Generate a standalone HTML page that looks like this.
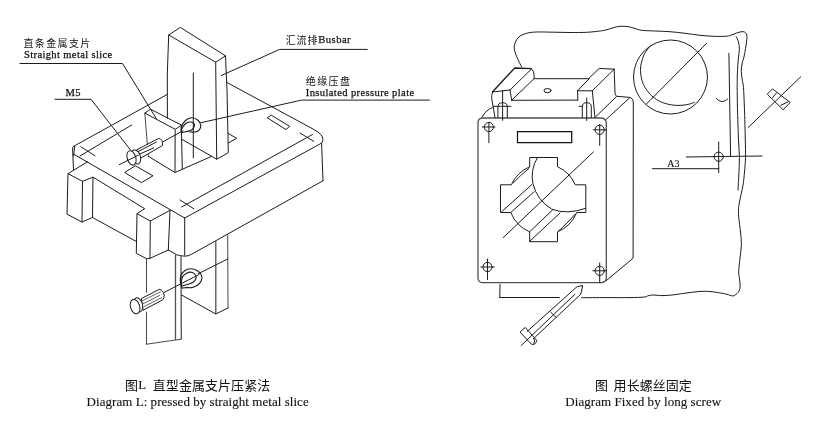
<!DOCTYPE html>
<html><head><meta charset="utf-8"><title>Diagram</title>
<style>
html,body{margin:0;padding:0;background:#fff;}
body{width:816px;height:440px;overflow:hidden;font-family:"Liberation Serif",serif;}
svg{display:block;will-change:transform;}
.l{fill:none;stroke:#1c1c1c;stroke-width:1;stroke-linecap:round;stroke-linejoin:round;}
.t{fill:none;stroke:#3a3a3a;stroke-width:0.8;stroke-linecap:round;stroke-linejoin:round;}
.w{fill:#fff;stroke:#1c1c1c;stroke-width:1;stroke-linecap:round;stroke-linejoin:round;}
.wt{fill:#fff;stroke:#3a3a3a;stroke-width:0.8;stroke-linejoin:round;}
.k{fill:#fff;stroke:none;}
.e{fill:none;stroke:#fff;stroke-width:3;}
.m{fill:none;stroke:#1c1c1c;stroke-width:1.12;stroke-linecap:round;stroke-linejoin:round;}
.b{fill:none;stroke:#1c1c1c;stroke-width:1.35;stroke-linecap:round;stroke-linejoin:round;}
.g{fill:none;stroke:#333;stroke-width:0.9;stroke-linecap:round;stroke-linejoin:round;}
.f{fill:none;stroke:#505050;stroke-width:1.3;stroke-linejoin:round;}
.h{fill:none;stroke:#111;stroke-width:1.25;stroke-linejoin:miter;}
text{font-family:"Liberation Serif",serif;fill:#111;stroke:#111;stroke-width:0.25px;}
text.c{stroke-width:0.12px;}
text.z{font-family:"Liberation Sans","Noto Sans CJK SC",sans-serif;fill:#111;stroke:none;}
</style></head><body>
<svg width="816" height="440" viewBox="0 0 816 440">
<rect width="816" height="440" fill="#fff"/>
<path class="l" d="M73.3 146.5 L167.5 94.3"/>
<path class="l" d="M227 82.5 L313 129 Q323.3 134.5 322.9 139.5 Q322.6 142 321.6 143.3 L323 180.8"/>
<path class="l" d="M321.4 143.2 L184.7 218"/>
<path class="l" d="M184.7 218 L73.7 154.2"/>
<path class="l" d="M73.3 146.5 Q72.4 147.3 72.6 149 L73.5 169.8"/>
<path class="l" d="M74.7 146.2 L73.6 156"/>
<path class="l" d="M80 156 L131.7 125"/>
<path class="l" d="M80.8 146.7 L95 155.8"/>
<path class="l" d="M181.7 207 L312.5 134.5"/>
<path class="l" d="M180 200 L193.7 208.7"/>
<path class="l" d="M300 133 L313.7 141.3"/>
<path class="l" d="M125 172.3 L135.3 165.8 L153 175.8 L141.8 182.5 Z"/>
<path class="l" d="M267.5 117.5 L271.3 115.2 L289.7 126.3 L286.3 129.3 Z"/>
<path class="l" d="M228.3 133.5 L236.7 138.3 L228.3 143"/>
<path class="l" d="M184.7 218 L184.7 255.3"/>
<path class="l" d="M323 180.8 L191.7 254.2 Q188 256.3 184.7 256.2 Q180 255.8 176.7 254.8 L168.3 250"/>
<path class="l" d="M87.5 161.8 L68 173.7 L82.5 181.3 L93 177.2 L144.7 208.7 L137 213.7 L150.3 221 L170 210.3"/>
<path class="l" d="M68 173.7 L67 214.2 L82 222 L92.5 217.5 L136.7 241.7"/>
<path class="l" d="M82.5 181.3 L82 222"/>
<path class="l" d="M93 177.2 L92.5 217.5"/>
<path class="l" d="M137 213.7 L136.3 253.3 L146.5 258.7 L150 258.3 L168.3 250"/>
<path class="l" d="M150.3 221 L150 258.3"/>
<path class="l" d="M170 210.3 L168.3 250"/>
<path class="g" d="M146.5 258.7 L146.5 344.2"/>
<path class="g" d="M146.5 344.2 L175.5 340 L181.3 339.2"/>
<path class="f" d="M175.5 255 L175.5 340"/>
<path class="f" d="M181 256 L181.3 339.2"/>
<path class="f" d="M215.8 241.3 L215.8 314"/>
<path class="g" d="M227.7 234.7 L228 308"/>
<path class="l" d="M181.5 295 L215.8 314 L228 308"/>
<path class="l" d="M167.4 118.3 L167.3 74 L168.7 35 L180.3 27.4 L225.5 55.8 L215.7 62.2 L168.7 35"/>
<path class="l" d="M215.7 62.2 L216.7 159.2"/>
<path class="l" d="M225.5 55.75 L227 90 L228.3 152.7 L216.7 159.2 L181.3 139"/>
<path class="l" d="M193.3 73 L193.3 157.8"/>
<path class="l" d="M150.2 109.4 L144.8 113.1 L175.2 129.3 L181.3 125.4 Z"/>
<path class="g" d="M144.8 113.1 L148.3 156.3"/>
<path class="l" d="M148.3 156.3 L175 172.5 L211.7 156.3"/>
<path class="f" d="M175.2 129.3 L175 172.5"/>
<path class="l" d="M181.3 125.4 L182.3 169"/>
<path class="l" d="M20 63.5 L122.5 63.5 L156.3 118.6"/>
<path class="l" d="M55 99.3 L91 99.3 L130.5 150"/>
<path class="l" d="M367.3 49.4 L279.7 49.4 L221.3 75.5"/>
<path class="l" d="M429.4 100.1 L301.5 100.1 L200.5 122.8"/>
<path class="m" d="M181.50 132.50 C181.50 131.54 180.83 128.75 181.50 126.75 C182.17 124.75 183.79 122.00 185.50 120.50 C187.21 119.00 189.67 117.79 191.75 117.75 C193.83 117.71 196.50 118.96 198.00 120.25 C199.50 121.54 200.54 123.90 200.75 125.50 C200.96 127.10 200.17 128.79 199.25 129.88 C198.33 130.96 196.81 131.65 195.25 132.00 C193.69 132.35 190.77 132.00 189.88 132.00"/>
<path class="m" d="M181.25 132.12 C180.83 131.29 182.19 128.23 183.00 126.75 C183.81 125.27 184.92 124.04 186.12 123.25 C187.33 122.46 188.98 122.00 190.25 122.00 C191.52 122.00 193.04 122.62 193.75 123.25 C194.46 123.88 194.62 124.85 194.50 125.75 C194.38 126.65 193.67 127.83 193.00 128.62 C192.33 129.42 191.75 129.98 190.50 130.50 C189.25 131.02 187.04 131.48 185.50 131.75 C183.96 132.02 181.67 132.96 181.25 132.12 Z"/>
<path class="l" d="M162.5 142 L183 130.8"/>
<path class="w" d="M136.9 149.7 L158.7 138.4 Q163.2 139 162.4 145.6 L141 157.9 Z"/>
<path class="l" d="M138.3 151.5 L156.5 142"/>
<path class="l" d="M139.2 154.3 L153.7 147.9"/>
<ellipse class="w" cx="136" cy="157" rx="4.4" ry="7.3" transform="rotate(-18 136 157)"/>
<ellipse class="w" cx="131.5" cy="157.9" rx="4.3" ry="7.4" transform="rotate(-18 131.5 157.9)"/>
<path class="l" d="M119.2 164.7 L138.3 155.2"/>
<path class="l" d="M198.3 273.7 L227.7 259"/>
<path class="m" d="M181.90 288.10 C181.65 287.02 180.58 283.65 180.40 281.60 C180.22 279.55 180.08 277.60 180.80 275.80 C181.52 274.00 183.08 271.97 184.70 270.80 C186.32 269.63 188.45 268.87 190.50 268.80 C192.55 268.73 195.17 269.35 197.00 270.40 C198.83 271.45 200.78 273.38 201.50 275.10 C202.22 276.82 202.05 278.97 201.30 280.70 C200.55 282.43 198.62 284.35 197.00 285.50 C195.38 286.65 193.40 287.25 191.60 287.60 C189.80 287.95 187.82 287.52 186.20 287.60 C184.58 287.68 182.62 288.02 181.90 288.10"/>
<path class="m" d="M181.20 283.70 C181.30 282.18 181.67 278.52 182.50 276.80 C183.33 275.08 184.87 274.18 186.20 273.40 C187.53 272.62 189.17 272.07 190.50 272.10 C191.83 272.13 193.27 272.82 194.20 273.60 C195.13 274.38 196.00 275.62 196.10 276.80 C196.20 277.98 195.62 279.62 194.80 280.70 C193.98 281.78 192.63 282.62 191.20 283.30 C189.77 283.98 187.75 284.37 186.20 284.80 C184.65 285.23 182.73 286.08 181.90 285.90 C181.07 285.72 181.10 285.22 181.20 283.70 Z"/>
<path class="e" d="M146.5 292.6 L146.5 311.6"/>
<path class="l" d="M164.2 292.4 L199 274.5"/>
<path class="w" d="M141.7 298.4 L159.4 289.3 Q163 289.8 164.2 295 Q164.3 298 162.9 299.7 L143.4 310.1 Z"/>
<path class="t" d="M142.6 300.6 L160.3 291.9"/>
<path class="t" d="M143.4 303.6 L159.8 295.4"/>
<path class="t" d="M143.9 306.6 L162 297.5"/>
<ellipse class="w" cx="138.1" cy="304.9" rx="4.4" ry="7.3" transform="rotate(-17 138.1 304.9)"/>
<ellipse class="w" cx="135.05" cy="306.6" rx="4.6" ry="7.4" transform="rotate(-17 135.05 306.6)"/>
<path class="l" d="M521.70 67.00 C520.87 65.28 517.95 60.08 516.70 56.70 C515.45 53.32 513.93 49.90 514.20 46.70 C514.47 43.50 516.22 39.73 518.30 37.50 C520.38 35.27 523.63 34.22 526.70 33.30 C529.77 32.38 532.27 32.18 536.70 32.00 C541.13 31.82 547.75 32.12 553.30 32.20 C558.85 32.28 564.43 32.48 570.00 32.50 C575.57 32.52 581.98 32.52 586.70 32.30 C591.42 32.08 595.08 31.58 598.30 31.20 C601.52 30.82 603.55 30.57 606.00 30.00 C608.45 29.43 610.67 28.42 613.00 27.80 C615.33 27.18 617.45 26.48 620.00 26.30 C622.55 26.12 625.80 26.33 628.30 26.70 C630.80 27.07 632.77 27.90 635.00 28.50 C637.23 29.10 638.37 29.88 641.70 30.30 C645.03 30.72 650.28 30.77 655.00 31.00 C659.72 31.23 665.00 31.32 670.00 31.70 C675.00 32.08 680.00 32.70 685.00 33.30 C690.00 33.90 695.17 34.80 700.00 35.30 C704.83 35.80 709.55 36.15 714.00 36.30 C718.45 36.45 723.70 36.45 726.70 36.20 C729.70 35.95 730.33 35.33 732.00 34.80 C733.67 34.27 735.20 33.50 736.70 33.00 C738.20 32.50 739.70 31.97 741.00 31.80 C742.30 31.63 743.53 31.47 744.50 32.00 C745.47 32.53 746.47 33.33 746.80 35.00 C747.13 36.67 746.93 38.53 746.50 42.00 C746.07 45.47 744.95 52.13 744.20 55.80 C743.45 59.47 742.48 61.35 742.00 64.00 C741.52 66.65 741.25 69.03 741.30 71.70 C741.35 74.37 741.93 77.35 742.30 80.00 C742.67 82.65 743.17 83.43 743.50 87.60 C743.83 91.77 744.08 99.68 744.30 105.00 C744.52 110.32 744.63 113.67 744.80 119.50 C744.97 125.33 745.18 133.65 745.30 140.00 C745.42 146.35 745.63 152.27 745.50 157.60 C745.37 162.93 744.92 167.43 744.50 172.00 C744.08 176.57 743.87 179.83 743.00 185.00 C742.13 190.17 740.05 198.83 739.30 203.00 C738.55 207.17 738.60 207.62 738.50 210.00 C738.40 212.38 738.37 213.63 738.70 217.30 C739.03 220.97 740.05 227.45 740.50 232.00 C740.95 236.55 741.48 240.27 741.40 244.60 C741.32 248.93 740.45 253.45 740.00 258.00 C739.55 262.55 738.73 268.07 738.70 271.90 C738.67 275.73 739.58 278.28 739.80 281.00 C740.02 283.72 740.30 286.28 740.00 288.20 C739.70 290.12 739.13 291.22 738.00 292.50 C736.87 293.78 735.03 295.60 733.20 295.90 C731.37 296.20 729.03 294.77 727.00 294.30 C724.97 293.83 723.83 293.57 721.00 293.10 C718.17 292.63 713.67 291.77 710.00 291.50 C706.33 291.23 703.17 291.22 699.00 291.50 C694.83 291.78 689.50 292.62 685.00 293.20 C680.50 293.78 675.83 294.60 672.00 295.00 C668.17 295.40 665.17 295.60 662.00 295.60 C658.83 295.60 655.33 294.97 653.00 295.00 C650.67 295.03 649.40 295.47 648.00 295.80 C646.60 296.13 647.60 296.70 644.60 297.00 C641.60 297.30 636.43 297.50 630.00 297.60 C623.57 297.70 614.05 297.58 606.00 297.60 C597.95 297.62 585.75 297.68 581.70 297.70"/>
<path class="l" d="M559.5 297.5 L499.8 297.5"/>
<path class="l" d="M499.8 297.5 L500 284.5"/>
<path class="l" d="M736.20 36.70 C736.58 37.58 737.97 39.87 738.50 42.00 C739.03 44.13 739.40 47.00 739.40 49.50 C739.40 52.00 738.77 54.35 738.50 57.00 C738.23 59.65 738.00 62.23 737.80 65.40 C737.60 68.57 737.40 72.30 737.30 76.00 C737.20 79.70 737.18 82.77 737.20 87.60 C737.22 92.43 737.30 99.68 737.40 105.00 C737.50 110.32 737.62 113.67 737.80 119.50 C737.98 125.33 738.23 133.65 738.50 140.00 C738.77 146.35 739.35 151.77 739.40 157.60 C739.45 163.43 739.03 169.60 738.80 175.00 C738.57 180.40 738.13 187.50 738.00 190.00"/>
<path class="l" d="M728.9 53.3 L730.6 156"/>
<path class="l" d="M716.3 98.5 Q721.7 104.5 727.5 99.2"/>
<path class="l" d="M481.7 117.5 Q485 111.5 490 108.5 L492.3 107.8"/>
<circle class="l" cx="670.5" cy="77" r="37"/>
<path class="l" d="M650.41 45.72 C649.44 47.02 646.08 50.60 644.55 53.53 C643.02 56.46 641.89 60.04 641.23 63.30 C640.58 66.55 640.26 69.48 640.65 73.06 C641.04 76.64 641.79 81.04 643.58 84.78 C645.37 88.52 648.30 92.59 651.39 95.52 C654.48 98.45 658.23 100.73 662.13 102.36 C666.04 103.99 670.76 104.90 674.83 105.29 C678.90 105.68 683.29 105.19 686.55 104.70 C689.80 104.21 693.06 102.75 694.36 102.36"/>
<path class="l" d="M706.5 43.4 L646.5 103.9"/>
<path class="l" d="M800.7 76.8 L748.2 127.5"/>
<path class="l" d="M772.2 89.2 L767.3 94.2 L783.2 109.8 L789.9 102.7 Z"/>
<path class="l" d="M776.4 93 L772.7 97.5"/>
<path class="l" d="M787.7 102 L780.8 105.3"/>
<circle class="l" cx="718.7" cy="156.7" r="4.6"/>
<path class="l" d="M718.7 142 L718.7 172.5"/>
<path class="l" d="M686.3 157 L762 156"/>
<path class="l" d="M652.5 168.7 L718.7 168.7"/>
<path class="l" d="M595 117.5 L616.7 96.3 L629 97.3 Q633.5 98 633.3 103 L633.1 258.2 L607 280 Q604 282.5 600.9 282.8"/>
<path class="l" d="M605.5 120 L629.5 98"/>
<path class="f" d="M482.5 118 L601.5 118 Q606 118.5 606.3 123 L606.3 278 Q606 282.5 601.5 282.6 L482.5 282.6 Q478.2 282.4 478 278 L478 122.5 Q478.2 118.3 482.5 118 Z"/>
<path class="h" d="M517.5 131.7 L571.7 131.7 L571.7 142.6 L517.5 142.6 Z"/>
<circle class="l" cx="488.9" cy="127" r="4.6"/>
<path class="l" d="M488.9 122.3 L488.9 142.7"/>
<path class="l" d="M482.2 127 L495 127"/>
<circle class="l" cx="599.7" cy="129.8" r="4.6"/>
<path class="l" d="M599.7 124.5 L599.7 145.5"/>
<path class="l" d="M593.3 129.8 L606.2 129.8"/>
<circle class="l" cx="487.5" cy="267" r="4.6"/>
<path class="l" d="M487.5 259 L487.5 279.5"/>
<path class="l" d="M480.8 267 L494.2 267"/>
<circle class="l" cx="599.7" cy="270.8" r="4.6"/>
<path class="l" d="M599.7 263 L599.7 282.5"/>
<path class="l" d="M592.8 270.8 L606.2 270.8"/>
<path class="b" d="M492.6 91.8 L514.7 68 L531 68.6"/>
<path class="l" d="M531 68.6 Q534.5 70 534.2 78.5"/>
<path class="l" d="M531.7 68.8 L510 90"/>
<path class="l" d="M492.5 92 L510 90"/>
<path class="l" d="M492.5 92 Q491.3 96 491.7 98.5 L495 117.5"/>
<path class="l" d="M510 90 L511.7 100.3"/>
<path class="l" d="M511.7 100.3 L534.2 78.5"/>
<path class="l" d="M534.2 78.7 L588.5 78.7"/>
<path class="l" d="M511.7 100.3 L577.8 100.1"/>
<ellipse class="l" cx="547.5" cy="90.6" rx="3.5" ry="2.1" transform="rotate(0 547.5 90.6)"/>
<path class="l" d="M588.5 78.7 L599.3 68.4 L614.2 69.2"/>
<path class="l" d="M589.2 78.7 L577.5 90.8"/>
<path class="l" d="M577.5 90.8 L592.3 90.8"/>
<path class="l" d="M592.3 90.8 L614.2 69.2"/>
<path class="l" d="M577.6 90.8 L577.8 100.1"/>
<path class="l" d="M592.3 90.8 L595 117.5"/>
<path class="l" d="M614.2 69.2 L615 93.3 Q615.5 95.5 616.7 96.3"/>
<path class="l" d="M497.9 117.5 L497.9 106.7 Q497.9 102.7 502.6 102.7 Q507.3 102.7 507.3 106.7 L507.3 117.5"/>
<path class="l" d="M582.3 117.5 L582.3 106.7 Q582.3 102.7 586.8 102.7 Q591.3 102.7 591.3 106.7 L591.3 117.5"/>
<path class="l" d="M502.6 90.5 L502.6 120.3"/>
<path class="l" d="M493.3 106.3 L510.8 106.3"/>
<path class="l" d="M586.7 98 L586.7 120.5"/>
<path class="l" d="M579 106.3 L582.3 106.3"/>
<path class="l" d="M529.7 166.7 L529.7 157.5 L557.5 157.5 L557.5 166.7 A35.4 35.4 0 0 1 575.3 184.8 L585.8 184.8 L585.8 212.5 L576.7 212.5 A35.4 35.4 0 0 1 557.5 231.9 L557.5 241.7 L529.7 241.7 L529.7 231.9 A35.4 35.4 0 0 1 510.8 212.5 L500.5 212.5 L500.5 184.8 L511.3 184.8 A35.4 35.4 0 0 1 529.7 166.7"/>
<path class="l" d="M513.2 183 A150 150 0 0 1 529 168.3"/>
<path class="l" d="M558.3 231.2 A150 150 0 0 0 575.2 214.2"/>
<path class="l" d="M537.5 157.5 Q530 170 533 184 Q537 200 551.7 209.2 Q567 215 585.8 208.3"/>
<path class="l" d="M593.3 152 L503.3 237.5"/>
<path class="l" d="M531.7 184.7 L501.7 211.7"/>
<path class="l" d="M534.2 191.7 L511 212.3"/>
<path class="l" d="M552.5 210 L529.7 231.7"/>
<path class="l" d="M560 213 L529.7 241.3"/>
<path class="l" d="M527.3 331.3 L577 286.7 L582.7 285.6 L580.8 294.2 L533.8 338.4"/>
<path class="l" d="M575 294.2 L521.2 345.5"/>
<path class="l" d="M550.4 311.8 L556.3 317.7"/>
<path class="l" d="M525 327.7 L520 332.1 L531.5 344.3 Q536 345.3 536.6 340.7 Z"/>
<path class="l" d="M533.8 338.4 Q535.5 341 534 343.5"/>
<text class="z" x="23.5" y="46.9" font-size="10" letter-spacing="1.35">直条金属支片</text>
<text x="24" y="57.8" font-size="10.5" letter-spacing="0.38">Straight metal slice</text>
<text x="65.5" y="96" font-size="10.5" letter-spacing="0.3">M5</text>
<text class="z" x="285.8" y="43.7" font-size="10" letter-spacing="0.8">汇流排</text>
<text x="318.3" y="43.3" font-size="10.5" letter-spacing="0.5">Busbar</text>
<text class="z" x="305.7" y="85" font-size="10" letter-spacing="1.45">绝缘压盘</text>
<text x="305.8" y="95.8" font-size="10.5" letter-spacing="0.4">Insulated pressure plate</text>
<text class="c" x="667.2" y="166.7" font-size="10" letter-spacing="0">A3</text>
<text class="z" x="125" y="389.5" font-size="13">图</text>
<text class="c" x="138.3" y="389.3" font-size="13" letter-spacing="0">L</text>
<text class="z" x="152.8" y="389.5" font-size="13" letter-spacing="0.05">直型金属支片压紧法</text>
<text class="c" x="86.6" y="405.5" font-size="13" letter-spacing="0.045">Diagram L: pressed by straight metal slice</text>
<text class="z" x="595" y="389.7" font-size="13">图</text>
<text class="z" x="613.6" y="389.7" font-size="13" letter-spacing="0.05">用长螺丝固定</text>
<text class="c" x="565.3" y="405.7" font-size="13" letter-spacing="0.05">Diagram Fixed by long screw</text>
</svg>
</body></html>
